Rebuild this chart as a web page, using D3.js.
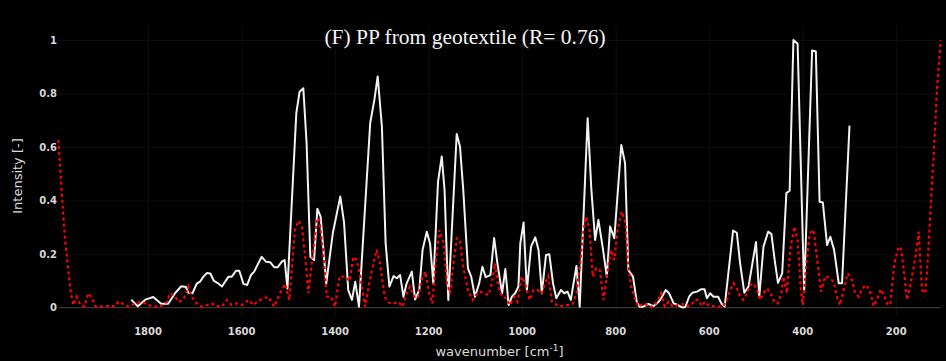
<!DOCTYPE html>
<html>
<head>
<meta charset="utf-8">
<script src="https://cdn.jsdelivr.net/npm/d3@7"></script>
<style>
    body { margin: 0; background: #000; }
    .grid line { stroke: #0e0e0e; stroke-width: 1; }
    .grid path { display: none; }
    .tick-label { fill: #d8d8d8; font-family: "DejaVu Sans", Verdana, sans-serif; font-size: 10px; font-weight: bold; }
    .axis-title { fill: #dcdcdc; font-family: "DejaVu Sans", Verdana, sans-serif; font-size: 13px; }
    .title { fill: #f4f4f4; font-family: "Liberation Serif", "Times New Roman", serif; font-size: 21.5px; }
</style>
</head>
<body>
<div id="chart"></div>
<script>
// chart text
var chartTitle = "(F) PP from geotextile (R= 0.76)";
var xTicks = [1800, 1600, 1400, 1200, 1000, 800, 600, 400, 200];
var yTicks = [0, 0.2, 0.4, 0.6, 0.8, 1];

// measured spectrum (white line)
var sampleWn = [1836, 1822, 1806, 1789, 1772, 1757, 1742, 1729, 1719, 1714, 1705, 1696, 1689, 1682, 1674, 1667, 1659, 1652, 1642, 1628,
    1621, 1612, 1605, 1596, 1588, 1580, 1573, 1566, 1557, 1548, 1539, 1530, 1523, 1514, 1508, 1502, 1483, 1476, 1468, 1461,
    1453, 1445, 1438, 1431, 1419, 1405, 1389, 1381, 1372, 1364, 1357, 1349, 1325, 1316, 1309, 1300, 1292, 1284, 1275, 1268,
    1261, 1254, 1247, 1236, 1229, 1220, 1213, 1204, 1197, 1190, 1180, 1172, 1166, 1158, 1140, 1133, 1126, 1116, 1109, 1101,
    1092, 1085, 1078, 1068, 1060, 1053, 1043, 1036, 1029, 1022, 1015, 1008, 1004, 997, 990, 981, 972, 965, 958, 949,
    942, 934, 927, 917, 910, 903, 896, 884, 877, 860, 852, 844, 837, 827, 819, 812, 803, 788, 780, 773,
    763, 755, 749, 741, 730, 719, 708, 701, 693, 686, 676, 667, 658, 651, 643, 636, 626, 617, 610, 605,
    598, 591, 581, 574, 567, 549, 541, 534, 525, 516, 500, 493, 484, 474, 467, 460, 453, 444, 435, 428,
    420, 411, 397, 380, 372, 364, 357, 348, 341, 333, 323, 316, 300];
var sampleInt = [0.03, 0.005, 0.03, 0.04, 0.015, 0.015, 0.055, 0.08, 0.077, 0.056, 0.054, 0.09, 0.097, 0.115, 0.13, 0.128, 0.1, 0.093, 0.079, 0.116,
    0.116, 0.138, 0.138, 0.089, 0.085, 0.122, 0.135, 0.16, 0.19, 0.172, 0.17, 0.151, 0.151, 0.172, 0.178, 0.072, 0.727, 0.807, 0.82, 0.614,
    0.19, 0.178, 0.37, 0.34, 0.09, 0.278, 0.415, 0.32, 0.066, 0.029, 0.097, 0.004, 0.69, 0.777, 0.864, 0.677, 0.24, 0.079, 0.118, 0.11,
    0.122, 0.041, 0.091, 0.135, 0.031, 0.066, 0.216, 0.284, 0.24, 0.091, 0.47, 0.565, 0.44, 0.029, 0.649, 0.602, 0.44, 0.147, 0.116, 0.041,
    0.091, 0.153, 0.114, 0.122, 0.26, 0.166, 0.054, 0.145, 0.01, 0.041, 0.054, 0.079, 0.24, 0.318, 0.066, 0.228, 0.263, 0.216, 0.054, 0.197,
    0.2, 0.091, 0.035, 0.066, 0.054, 0.06, 0.029, 0.156, 0.004, 0.708, 0.44, 0.253, 0.328, 0.216, 0.116, 0.303, 0.26, 0.608, 0.54, 0.141,
    0.116, 0.022, 0.004, 0.004, 0.014, 0.006, 0.022, 0.041, 0.066, 0.054, 0.016, 0.01, 0.001, 0.003, 0.041, 0.056, 0.06, 0.069, 0.069, 0.035,
    0.054, 0.041, 0.041, 0.016, 0.004, 0.288, 0.28, 0.166, 0.056, 0.079, 0.245, 0.041, 0.228, 0.284, 0.275, 0.178, 0.093, 0.128, 0.428, 0.437,
    1.0, 0.986, 0.06, 0.961, 0.957, 0.396, 0.393, 0.234, 0.265, 0.216, 0.091, 0.091, 0.68];

// library reference spectrum (red dotted line)
var refWn = [1992, 1985, 1978, 1970, 1965, 1960, 1953, 1945, 1936, 1928, 1920, 1912, 1899, 1888, 1878, 1871, 1864, 1853, 1842, 1828,
    1813, 1799, 1789, 1774, 1760, 1753, 1742, 1734, 1724, 1714, 1707, 1696, 1685, 1674, 1664, 1653, 1642, 1632, 1621, 1610,
    1600, 1585, 1575, 1564, 1553, 1543, 1530, 1518, 1507, 1498, 1486, 1478, 1471, 1464, 1457, 1450, 1439, 1434, 1426, 1418,
    1409, 1400, 1391, 1379, 1369, 1361, 1354, 1346, 1336, 1327, 1318, 1311, 1304, 1294, 1286, 1275, 1265, 1256, 1247, 1240,
    1229, 1222, 1215, 1207, 1199, 1192, 1185, 1177, 1168, 1161, 1154, 1147, 1140, 1133, 1126, 1116, 1106, 1099, 1090, 1081,
    1072, 1065, 1058, 1051, 1043, 1034, 1026, 1017, 1010, 1001, 994, 984, 976, 967, 958, 951, 944, 936, 929, 919,
    910, 901, 892, 884, 876, 869, 863, 856, 849, 842, 834, 826, 817, 810, 803, 796, 787, 779, 774, 767,
    758, 751, 742, 733, 726, 717, 708, 703, 695, 687, 678, 667, 657, 648, 638, 631, 623, 616, 609, 600,
    591, 580, 570, 562, 555, 548, 541, 534, 527, 519, 512, 505, 498, 491, 484, 476, 469, 460, 453, 446,
    441, 434, 427, 418, 411, 404, 400, 392, 385, 377, 368, 361, 352, 342, 334, 327, 320, 311, 304, 295,
    288, 280, 273, 264, 255, 248, 240, 233, 225, 218, 213, 204, 195, 190, 184, 177, 169, 159, 152, 145,
    138, 133, 126, 119, 113, 105];
var refInt = [0.627, 0.44, 0.265, 0.128, 0.054, 0.01, 0.041, 0.01, 0.004, 0.054, 0.035, 0.004, 0.004, 0.006, 0.006, 0.004, 0.022, 0.014, 0.004, 0.016,
    0.022, 0.01, 0.004, 0.004, 0.022, 0.054, 0.041, 0.022, 0.031, 0.079, 0.041, 0.016, 0.004, 0.01, 0.016, 0.006, 0.004, 0.029, 0.01, 0.016,
    0.01, 0.029, 0.01, 0.026, 0.035, 0.041, 0.004, 0.054, 0.089, 0.029, 0.29, 0.325, 0.303, 0.19, 0.054, 0.166, 0.334, 0.328, 0.216, 0.041,
    0.041, 0.004, 0.116, 0.116, 0.1, 0.19, 0.178, 0.116, 0.004, 0.091, 0.166, 0.216, 0.166, 0.041, 0.019, 0.016, 0.022, 0.004, 0.054, 0.079,
    0.035, 0.041, 0.104, 0.135, 0.054, 0.016, 0.166, 0.29, 0.24, 0.091, 0.054, 0.166, 0.259, 0.253, 0.153, 0.066, 0.029, 0.047, 0.06, 0.054,
    0.047, 0.091, 0.166, 0.079, 0.041, 0.035, 0.01, 0.041, 0.022, 0.116, 0.091, 0.029, 0.066, 0.066, 0.054, 0.091, 0.118, 0.022, 0.014, 0.004,
    0.01, 0.01, 0.014, 0.054, 0.166, 0.29, 0.34, 0.29, 0.116, 0.147, 0.141, 0.029, 0.141, 0.216, 0.178, 0.29, 0.359, 0.316, 0.166, 0.079,
    0.029, 0.004, 0.016, 0.01, 0.002, 0.01, 0.035, 0.054, 0.004, 0.022, 0.004, 0.01, 0.014, 0.004, 0.01, 0.029, 0.029, 0.006, 0.022, 0.006,
    0.006, 0.004, 0.006, 0.029, 0.066, 0.091, 0.072, 0.041, 0.029, 0.054, 0.085, 0.091, 0.066, 0.029, 0.054, 0.072, 0.054, 0.019, 0.016, 0.054,
    0.116, 0.054, 0.216, 0.303, 0.253, 0.066, 0.01, 0.166, 0.278, 0.29, 0.166, 0.06, 0.118, 0.11, 0.097, 0.041, 0.01, 0.079, 0.128, 0.104,
    0.054, 0.041, 0.072, 0.085, 0.054, 0.006, 0.035, 0.069, 0.041, 0.01, 0.012, 0.166, 0.228, 0.222, 0.141, 0.029, 0.091, 0.19, 0.284, 0.066,
    0.054, 0.166, 0.39, 0.602, 0.814, 1.0];

var sample = sampleWn.map(function (w, i) { return { wn: w, value: sampleInt[i] }; });
var reference = refWn.map(function (w, i) { return { wn: w, value: refInt[i] }; });

var width = 946, height = 361;
var plot = { left: 58.3, right: 940.7, top: 25, bottom: 316 };

var svg = d3.select("#chart")
    .append("svg")
    .attr("width", width)
    .attr("height", height);

svg.append("rect")
    .attr("width", width)
    .attr("height", height)
    .attr("fill", "#000");

// x axis runs from high to low wavenumber
var x = d3.scaleLinear()
    .domain(d3.extent(refWn).reverse())
    .range([plot.left, plot.right]);

var y = d3.scaleLinear()
    .domain([0, 1])
    .range([307.7, 40]);

// gridlines
svg.append("g")
    .attr("class", "grid")
    .attr("transform", "translate(0," + plot.bottom + ")")
    .call(d3.axisBottom(x)
        .tickValues(xTicks)
        .tickSize(-(plot.bottom - plot.top))
        .tickFormat(""));

svg.append("g")
    .attr("class", "grid")
    .attr("transform", "translate(" + plot.left + ",0)")
    .call(d3.axisLeft(y)
        .tickValues(yTicks.filter(function (d) { return d > 0; }))
        .tickSize(-(plot.right - plot.left))
        .tickFormat(""));

// zero line
svg.append("line")
    .attr("x1", plot.left)
    .attr("x2", plot.right)
    .attr("y1", y(0))
    .attr("y2", y(0))
    .attr("stroke", "#444")
    .attr("stroke-width", 1);

// tick labels
svg.append("g")
    .selectAll("text")
    .data(xTicks)
    .enter()
    .append("text")
    .attr("class", "tick-label")
    .attr("x", function (d) { return x(d); })
    .attr("y", 335)
    .attr("text-anchor", "middle")
    .text(function (d) { return d; });

svg.append("g")
    .selectAll("text")
    .data(yTicks)
    .enter()
    .append("text")
    .attr("class", "tick-label")
    .attr("x", 57)
    .attr("y", function (d) { return y(d) + 3.5; })
    .attr("text-anchor", "end")
    .text(function (d) { return d3.format("~g")(d); });

var line = d3.line()
    .x(function (d) { return x(d.wn); })
    .y(function (d) { return y(d.value); });

// measured spectrum
svg.append("path")
    .datum(sample)
    .attr("fill", "none")
    .attr("stroke", "#f2f2f2")
    .attr("stroke-width", 2)
    .attr("stroke-linejoin", "round")
    .attr("d", line);

// reference spectrum
svg.append("path")
    .datum(reference)
    .attr("fill", "none")
    .attr("stroke", "#ff0000")
    .attr("stroke-width", 2.2)
    .attr("stroke-dasharray", "3,3")
    .attr("d", line);

// titles
svg.append("text")
    .attr("class", "title")
    .attr("x", 465)
    .attr("y", 44)
    .attr("text-anchor", "middle")
    .text(chartTitle);

var xTitle = svg.append("text")
    .attr("class", "axis-title")
    .attr("x", (plot.left + plot.right) / 2)
    .attr("y", 356)
    .attr("text-anchor", "middle");
xTitle.append("tspan").text("wavenumber [cm");
xTitle.append("tspan").attr("dy", -5).attr("font-size", "9px").text("-1");
xTitle.append("tspan").attr("dy", 5).text("]");

svg.append("text")
    .attr("class", "axis-title")
    .attr("transform", "translate(22,176) rotate(-90)")
    .attr("text-anchor", "middle")
    .text("Intensity [-]");
</script>
</body>
</html>
